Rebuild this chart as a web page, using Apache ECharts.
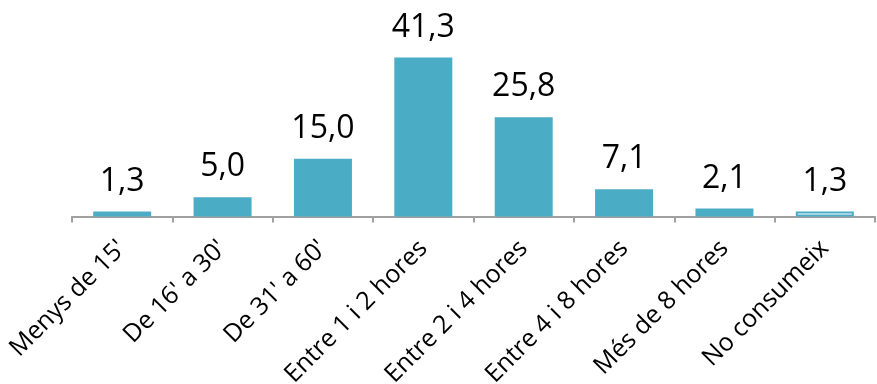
<!DOCTYPE html>
<html><head><meta charset="utf-8">
<script src="https://cdn.jsdelivr.net/npm/echarts@6/dist/echarts.min.js"></script>
<style>html,body{margin:0;padding:0;background:#fff}#c{width:877px;height:384px}</style>
</head><body><div id="c"></div>
<script>
const categories = ["Menys de 15'", "De 16' a 30'", "De 31' a 60'", "Entre 1 i 2 hores", "Entre 2 i 4 hores", "Entre 4 i 8 hores", "Més de 8 hores", "No consumeix"];
const values = [1.3, 5.0, 15.0, 41.3, 25.8, 7.1, 2.1, 1.3];
const outlined = [false, false, false, false, false, false, false, true];
const blue = '#4BACC6';
const font = 'Open Sans';
const chart = echarts.init(document.getElementById('c'));
chart.setOption({
  animation: false,
  grid: {left: 72, right: 2, top: 24, bottom: 167.5, containLabel: false, outerBoundsMode: 'none'},
  xAxis: {
    type: 'category', data: categories,
    axisLine: {lineStyle: {color: '#A0A0A0', width: 2}},
    axisTick: {show: true, length: 6, lineStyle: {color: '#A0A0A0', width: 2}},
    axisLabel: {rotate: 45, interval: 0, fontFamily: font, fontSize: 25, color: '#000', margin: 28}
  },
  yAxis: {type: 'value', min: 0, max: 50, show: false, splitLine: {show: false}},
  series: [{
    type: 'bar', barWidth: 58,
    data: values.map((v, i) => ({
      value: v,
      itemStyle: outlined[i] ? {color: '#fff', borderColor: blue, borderWidth: 2} : {color: blue}
    })),
    label: {show: true, position: 'top', distance: 14, fontFamily: font, fontSize: 32, color: '#000',
      formatter: p => p.value.toFixed(1).replace('.', ',')}
  }]
});
</script></body></html>
